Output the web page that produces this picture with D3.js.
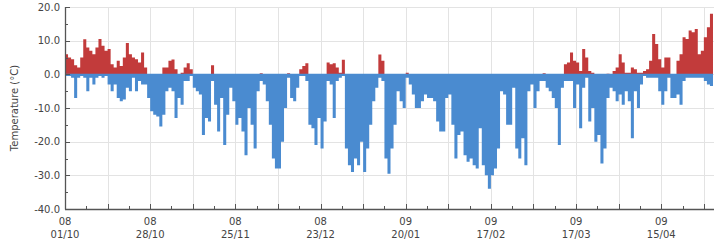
<!DOCTYPE html>
<html>
<head>
<meta charset="utf-8">
<script src="https://cdn.jsdelivr.net/npm/d3@7/dist/d3.min.js"></script>
<style>
  body { margin: 0; background: #fff; }
  text { font-family: "DejaVu Sans", Verdana, sans-serif; fill: #444; }
  .grid line { stroke: #e3e3e3; stroke-width: 1; }
  .axis-line { stroke: #555; stroke-width: 1.3; }
</style>
</head>
<body>
<script>
// Data ------------------------------------------------------------------------
// one value per day starting 01/10/2008
var startDay = "2008-10-01";

// warmest reading of the day (0 = never above freezing)
var warmPeak = [
  6, 5, 4.5, 2.7, 2, 5, 10.4, 8, 7, 6,
  8, 10.5, 8.5, 7, 7.5, 3, 2, 4, 2.5, 5,
  9.3, 6, 5, 4.5, 3.5, 6.5, 2, 0, 0, 0,
  0, 0, 2, 2, 4, 4.4, 1.5, 0, 0.5, 2,
  3.3, 1.5, 0, 0, 0, 0, 0, 0, 2.7, 0,
  0, 0, 0, 0, 0, 0, 0, 0, 0, 0,
  0, 0, 0, 0, 0.3, 0, 0, 0, 0, 0,
  0, 0, 0, 0.3, 0, 0, 0, 1.5, 2.5, 3.3,
  0, 0, 0, 0, 0, 0, 3.5, 3, 3.3, 2,
  0.5, 4.3, 0, 0, 0, 0, 0, 0, 0, 0,
  0, 0, 0, 5.9, 4, 0, 0, 0, 0, 0,
  0, 0, 0.5, 0, 0, 0, 0, 0, 0, 0,
  0, 0, 0, 0, 0, 0, 0, 0, 0, 0,
  0, 0, 0, 0, 0, 0, 0, 0, 0, 0,
  0, 0, 0, 0, 0, 0, 0, 0, 0, 0,
  0, 0, 0, 0, 0, 0, 0, 0.3, 0, 0,
  0, 0, 0, 0, 3, 3.5, 6.5, 4, 3.5, 1,
  7.5, 5, 1, 0.5, 0, 0, 0, 0, 0.2, 0,
  1, 2, 6, 3.5, 0.5, 0.5, 2, 1.5, 0.5, 0.5,
  1, 1.5, 4, 12, 9, 4.5, 2, 5, 5, 0,
  0, 4, 6, 11, 10.5, 13, 12.5, 13.5, 6, 7,
  11, 14, 18
];

// coldest reading of the day (0 = never below freezing)
var coldPeak = [
  -0.5, -0.5, -1, -7, -1, -0.5, -1, -5, -1, -3,
  -1, -0.5, -1, -0.5, -3, -5, -3, -7, -8, -7.5,
  -4, -5, -1, -5, -2, -3, -3, -7, -11, -12,
  -12.5, -15.5, -12, -5, -4, -5, -13, -7, -9, -2,
  -2, -0.5, -4, -5, -6, -18, -13, -14, -2, -9,
  -17, -7, -21, -12, -4, -8, -15, -13, -17, -24,
  -10, -15, -22, -5, -2, -3, -8, -15, -25, -28,
  -28, -20, -10, -1, -7, -8, -4, -0.5, -0.5, -2,
  -15, -16, -21, -13, -22, -14, -2, -3, -13, -2,
  -1, -0.5, -22, -27, -29, -25, -27, -20, -29, -22,
  -15, -8, -4, -1, -2, -25, -29.5, -22, -15, -5,
  -8, -10, -1, -3, -6, -10, -10, -8, -6, -7,
  -7, -8, -14, -17, -17, -7, -6, -15, -25, -18,
  -17, -24, -26, -25, -27, -28, -16, -27, -30, -34,
  -30, -28, -22, -5, -6, -15, -15, -4, -22, -25,
  -19, -27, -5, -3, -10, -5, -2, -2, -4, -5,
  -7, -10, -21, -4, -2, -2, -2, -10, -3, -16,
  -4, -1, -14, -10, -20, -18, -26.5, -22, -7, -4,
  -5, -8, -6, -9, -5, -8, -19, -5, -10, -3,
  -0.5, -1, -1, -1, -1, -5, -9, -5, -1, -7,
  -7, -6, -9, -2, -1, -1, -1, -1, -1, -1,
  -2, -3, -3.5
];

var yTicks = [20, 10, 0, -10, -20, -30, -40];

// labels under every 4th week (year / day-month)
var xTickLabels = [
  ["08", "01/10"], ["08", "28/10"], ["08", "25/11"], ["08", "23/12"],
  ["09", "20/01"], ["09", "17/02"], ["09", "17/03"], ["09", "15/04"]
];

// Layout ------------------------------------------------------------------------
var W = 720, H = 241;
var margin = {top: 7, right: 6, bottom: 32, left: 65};
var width = W - margin.left - margin.right,
    height = H - margin.top - margin.bottom;

var start = d3.utcParse("%Y-%m-%d")(startDay);
var end = d3.utcHour.offset(start, 24 * warmPeak.length + 8);

var x = d3.scaleUtc().domain([start, end]).range([0, width]);
var y = d3.scaleLinear().domain([-40, 20]).range([height, 0]);

var days = warmPeak.map(function(w, i) {
  return {date: d3.utcDay.offset(start, i), warm: w, cold: coldPeak[i]};
});
// closing point so the last day gets its full width in the step areas
days.push({date: d3.utcDay.offset(start, days.length),
           warm: warmPeak[warmPeak.length - 1], cold: coldPeak[coldPeak.length - 1]});

var svg = d3.select("body").append("svg")
    .attr("width", W)
    .attr("height", H)
  .append("g")
    .attr("transform", "translate(" + margin.left + "," + margin.top + ")");

// gridlines
var weeks = d3.range(0, 31).map(function(i) { return d3.utcDay.offset(start, 7 * i); })
              .filter(function(d) { return d <= end; });
var fortnights = weeks.filter(function(d, i) { return i % 2 === 0 && i > 0; });

var grid = svg.append("g").attr("class", "grid");
grid.selectAll(".h").data(yTicks.filter(function(t) { return t > -40; }))
  .enter().append("line")
    .attr("x1", 0).attr("x2", width)
    .attr("y1", function(d) { return Math.round(y(d)) + 0.5; })
    .attr("y2", function(d) { return Math.round(y(d)) + 0.5; });
grid.selectAll(".v").data(fortnights)
  .enter().append("line")
    .attr("x1", function(d) { return Math.round(x(d)) + 0.5; })
    .attr("x2", function(d) { return Math.round(x(d)) + 0.5; })
    .attr("y1", 0).attr("y2", height);

// bars: one column per day, drawn as step areas so neighbours join cleanly
var warmArea = d3.area()
    .curve(d3.curveStepAfter)
    .x(function(d) { return x(d.date); })
    .y0(y(0))
    .y1(function(d) { return y(Math.max(d.warm, 0)); });

var coldArea = d3.area()
    .curve(d3.curveStepAfter)
    .x(function(d) { return x(d.date); })
    .y0(y(0))
    .y1(function(d) { return y(Math.min(d.cold, 0)); });

svg.append("path").datum(days)
    .attr("d", warmArea)
    .attr("fill", "#c23b3b");

svg.append("path").datum(days)
    .attr("d", coldArea)
    .attr("fill", "#4a8bd0");

// zero line
svg.append("line")
    .attr("x1", 0).attr("x2", x(days[days.length - 1].date))
    .attr("y1", y(0)).attr("y2", y(0))
    .attr("stroke", "#4a8bd0").attr("stroke-width", 1.2);

// y axis: ticks every 5 degrees pointing inward
var yMinor = d3.range(-35, 20, 10);
svg.append("g").selectAll("line")
  .data(yTicks.concat(yMinor))
  .enter().append("line")
    .attr("x1", 0)
    .attr("x2", function(d) { return d % 10 === 0 ? 5 : 3; })
    .attr("y1", function(d) { return Math.round(y(d)) + 0.5; })
    .attr("y2", function(d) { return Math.round(y(d)) + 0.5; })
    .attr("stroke", "#555");

svg.append("g").selectAll("text")
  .data(yTicks)
  .enter().append("text")
    .attr("x", -5)
    .attr("y", function(d) { return y(d); })
    .attr("dy", "0.35em")
    .attr("text-anchor", "end")
    .style("font-size", "10px")
    .text(function(d) { return d3.format(".1f")(d).replace("\u2212", "-"); });

// x axis: weekly ticks pointing up
svg.append("g").selectAll("line")
  .data(weeks)
  .enter().append("line")
    .attr("x1", function(d) { return Math.round(x(d)) + 0.5; })
    .attr("x2", function(d) { return Math.round(x(d)) + 0.5; })
    .attr("y1", height)
    .attr("y2", function(d, i) { return height - (i % 2 === 0 ? 5 : 3); })
    .attr("stroke", "#555");

var xl = svg.append("g").selectAll("g")
  .data(xTickLabels)
  .enter().append("g")
    .attr("transform", function(d, i) {
      return "translate(" + x(d3.utcDay.offset(start, 28 * i)) + "," + height + ")";
    });
xl.append("text").attr("y", 16).attr("text-anchor", "middle")
  .style("font-size", "10px").text(function(d) { return d[0]; });
xl.append("text").attr("y", 29).attr("text-anchor", "middle")
  .style("font-size", "10px").text(function(d) { return d[1]; });

// axis lines
svg.append("line").attr("class", "axis-line")
    .attr("x1", 0.5).attr("x2", 0.5).attr("y1", 0).attr("y2", height + 0.5);
svg.append("line").attr("class", "axis-line")
    .attr("x1", 0).attr("x2", width).attr("y1", height + 0.5).attr("y2", height + 0.5);

// y axis title
svg.append("text")
    .attr("transform", "translate(" + (-margin.left + 18) + "," + (height / 2) + ") rotate(-90)")
    .attr("text-anchor", "middle")
    .style("font-size", "10px")
    .text("Temperature (°C)");
</script>
</body>
</html>
